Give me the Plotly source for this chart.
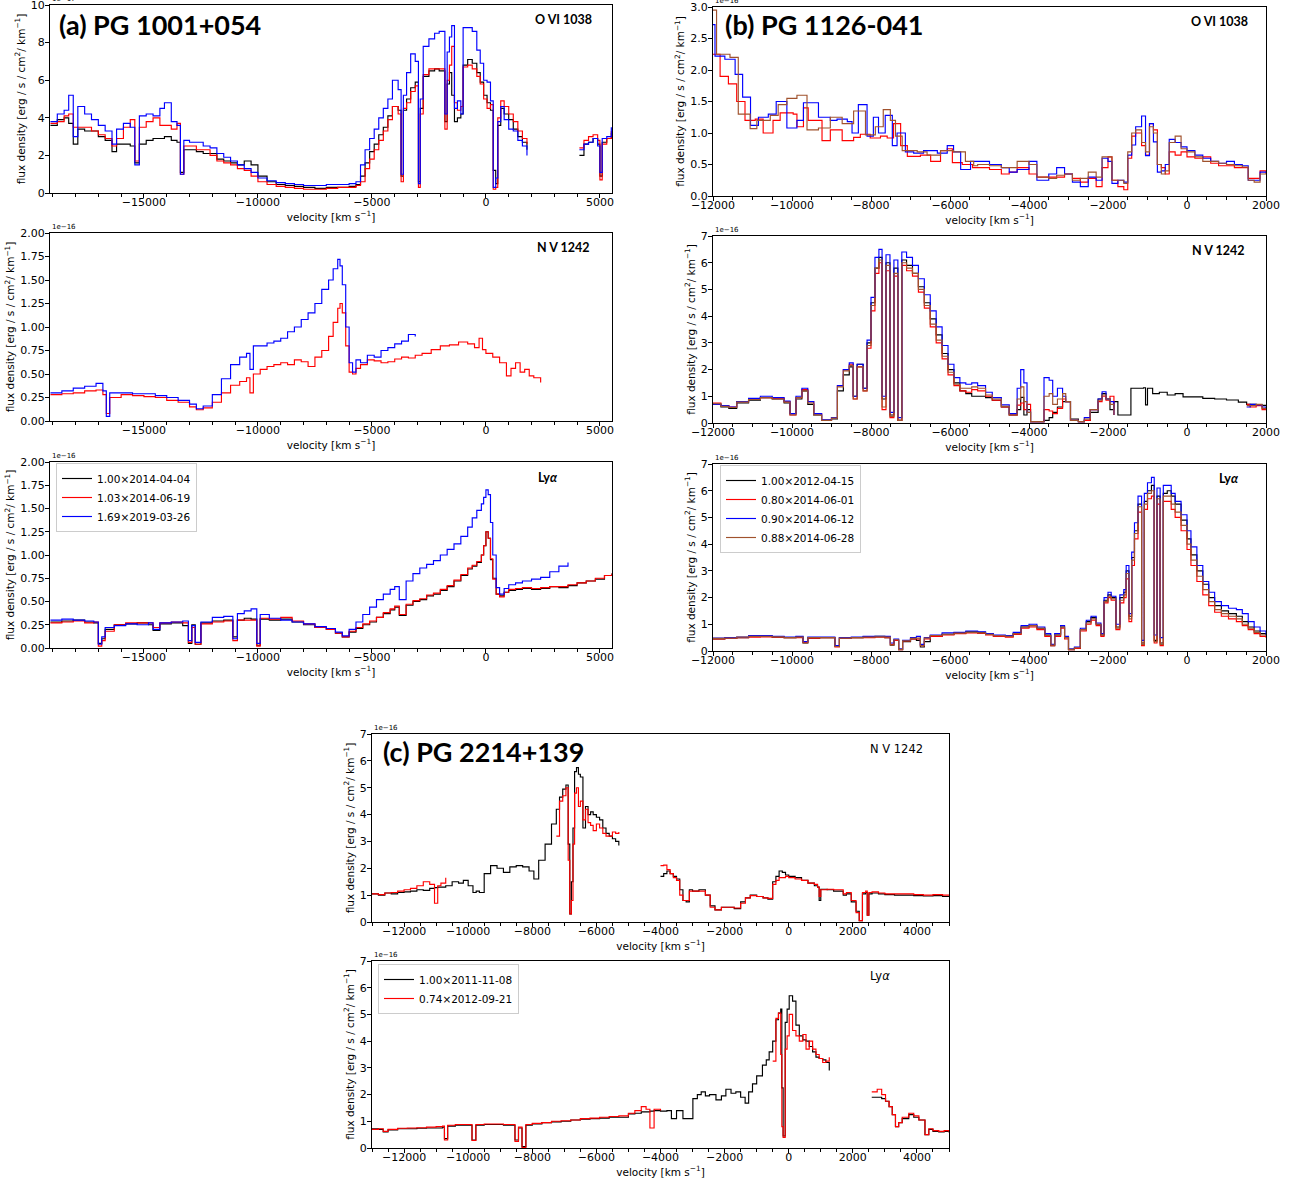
import plotly.graph_objects as go

# ---------------- (a) PG 1001+054 : O VI 1038 (units 1e-17) ----------------
A1_V = [-19100,-18800,-18500,-18300,-18100,-17900,-17600,-17300,-17000,-16700,
        -16400,-16200,-15900,-15600,-15400,-15200,-14900,-14600,-14300,-14100,
        -13800,-13550,-13400,-13250,-13000,-12700,-12400,-12100,-11800,-11500,
        -11200,-10900,-10600,-10300,-10000,-9600,-9200,-8800,-8400,-8000,
        -7500,-7000,-6500,-6000,-5700,-5500,-5300,-5100,-4900,-4700,
        -4500,-4300,-4100,-3850,-3720,-3620,-3480,-3300,-3100,-2960,
        -2880,-2750,-2500,-2250,-2050,-1800,-1700,-1600,-1500,-1380,
        -1250,-1100,-1000,-800,-600,-400,-250,-100,50,200,
        320,430,520,650,800,1000,1200,1400,1600,1800,
        2000,4100,4300,4500,4700,4900,5000,5100,5300,5500]
A1_BLACK = [3.6,3.9,4.0,3.7,2.6,3.4,3.3,3.3,3.0,2.8,
            2.2,2.6,2.6,2.5,1.6,2.6,2.8,2.9,2.9,3.0,
            2.8,2.7,1.1,2.3,2.3,2.2,2.1,2.1,1.8,1.7,
            1.6,1.5,1.7,1.5,0.9,0.6,0.45,0.4,0.35,0.3,
            0.25,0.3,0.3,0.35,0.45,0.9,1.6,2.2,2.6,3.1,
            3.5,4.1,4.6,4.4,0.9,4.4,5.0,5.6,5.9,0.6,
            4.5,6.2,6.5,6.6,6.5,3.8,5.8,6.4,5.2,3.8,
            4.0,4.2,6.8,7.1,6.9,6.4,5.9,5.2,4.8,4.4,
            1.2,0.5,3.6,4.5,4.2,3.9,3.4,3.0,2.7,2.3,
            None,2.0,2.6,2.7,2.9,2.6,0.9,2.7,2.9,3.2]
A1_RED = [3.7,3.8,4.1,4.2,3.5,3.5,3.5,3.3,3.1,2.9,
          2.5,2.9,3.5,3.9,1.7,3.5,3.8,4.0,3.6,3.6,
          3.4,3.7,1.0,2.5,2.5,2.3,2.3,2.0,1.7,1.6,
          1.5,1.3,1.2,0.9,0.6,0.45,0.35,0.3,0.25,0.2,
          0.2,0.25,0.3,0.3,0.4,0.6,1.3,1.8,2.3,2.8,
          3.3,3.9,4.6,4.2,0.6,4.5,4.8,5.4,5.7,0.3,
          4.2,6.3,6.6,6.6,6.6,3.4,6.0,6.8,7.8,4.8,
          4.4,4.6,6.7,6.8,6.6,6.2,5.8,5.0,4.5,4.7,
          0.2,0.3,4.0,4.9,4.6,4.2,3.8,3.3,2.9,2.6,
          None,2.4,2.8,3.0,3.1,2.8,0.7,2.6,2.9,3.3]
A1_BLUE = [3.8,4.2,4.4,5.2,3.0,4.6,4.2,3.9,3.6,3.3,
           2.6,3.4,3.7,3.5,1.5,4.1,4.2,4.1,4.5,4.8,
           3.8,3.6,1.0,2.8,2.7,2.7,2.5,2.4,2.1,1.9,
           1.7,1.5,1.3,1.1,0.8,0.65,0.55,0.5,0.45,0.4,
           0.4,0.45,0.45,0.5,0.6,1.5,2.3,2.9,3.4,4.0,
           4.5,5.0,6.0,5.5,1.0,5.2,6.4,7.4,7.0,0.5,
           5.0,7.8,8.2,8.5,8.6,4.2,7.5,8.3,8.9,4.5,
           4.9,4.2,8.8,8.8,8.6,7.6,6.9,6.0,5.9,4.9,
           0.3,0.8,3.8,4.6,3.9,3.4,3.3,2.8,2.5,2.0,
           None,2.3,2.6,2.7,2.9,2.5,1.1,2.9,3.0,3.5]

# ---------------- (a) N V 1242 (units 1e-16) ----------------
A2_V = [-19100,-18600,-18100,-17600,-17100,-16800,-16650,-16500,-16000,-15500,
        -15000,-14500,-14000,-13500,-13000,-12700,-12400,-12000,-11600,-11200,
        -10800,-10500,-10350,-10200,-9900,-9600,-9300,-9000,-8700,-8400,
        -8100,-7800,-7500,-7200,-6900,-6700,-6500,-6400,-6300,-6150,
        -6000,-5850,-5700,-5500,-5200,-4900,-4600,-4300,-4000,-3700,
        -3400,-3100,-2800,-2400,-2000,-1600,-1200,-800,-500,-300,
        -150,0,300,600,900,1100,1300,1500,1700,1900,
        2100,2400]
A2_RED = [0.28,0.29,0.30,0.32,0.33,0.28,0.08,0.25,0.28,0.27,
          0.26,0.25,0.22,0.20,0.15,0.12,0.14,0.20,0.30,0.38,
          0.42,0.46,0.30,0.50,0.55,0.58,0.60,0.62,0.60,0.65,
          0.63,0.58,0.68,0.75,0.90,1.05,1.20,1.25,1.15,0.80,
          0.52,0.50,0.56,0.60,0.65,0.64,0.62,0.63,0.66,0.68,
          0.67,0.70,0.72,0.76,0.80,0.81,0.84,0.82,0.78,0.88,
          0.76,0.72,0.68,0.62,0.48,0.56,0.62,0.52,0.55,0.48,
          0.46,0.41]
A2_BLUE = [0.30,0.32,0.35,0.37,0.40,0.32,0.05,0.30,0.30,0.29,
           0.29,0.27,0.25,0.22,0.18,0.13,0.16,0.28,0.45,0.60,
           0.68,0.72,0.55,0.80,0.80,0.83,0.85,0.88,0.95,1.00,
           1.08,1.15,1.25,1.40,1.50,1.62,1.72,1.65,1.45,1.00,
           0.62,0.52,0.65,0.62,0.70,0.68,0.75,0.78,0.82,0.85,
           0.92,0.90,None,None,None,None,None,None,None,None,
           None,None,None,None,None,None,None,None,None,None,
           None,None]

# ---------------- (a) Ly alpha (units 1e-16) ----------------
A3_V = [-19100,-18600,-18100,-17600,-17200,-17000,-16850,-16700,-16300,-15800,
        -15300,-14800,-14600,-14300,-13800,-13300,-13050,-12900,-12750,-12500,
        -12000,-11500,-11100,-10900,-10600,-10300,-10050,-9900,-9500,-9000,
        -8500,-8000,-7500,-7000,-6600,-6300,-6000,-5700,-5400,-5100,
        -4800,-4500,-4200,-4000,-3800,-3500,-3200,-2900,-2600,-2300,
        -2000,-1700,-1400,-1100,-800,-600,-400,-200,-100,0,
        100,200,300,450,600,800,1000,1300,1600,2000,
        2400,2800,3200,3600,4000,4400,4800,5200,5530]
A3_BLACK = [.28,.29,.30,.28,.27,.05,.10,.20,.25,.26,
            .27,.25,.19,.26,.27,.24,.05,.25,.04,.27,
            .29,.30,.12,.30,.32,.31,.03,.31,.30,.31,
            .28,.25,.22,.20,.16,.12,.17,.21,.25,.28,
            .33,.37,.41,.44,.35,.46,.50,.52,.56,.58,
            .62,.66,.72,.78,.85,.88,.92,1.0,1.1,1.25,
            1.18,.95,.75,.58,.56,.60,.62,.63,.64,.63,
            .64,.66,.65,.67,.70,.72,.74,.78,.80]
A3_RED = [.27,.28,.29,.27,.28,.02,.08,.18,.25,.27,
          .27,.27,.22,.27,.28,.27,.06,.22,.04,.26,
          .28,.29,.08,.30,.30,.30,.02,.32,.31,.33,
          .29,.26,.22,.20,.16,.12,.18,.22,.26,.29,
          .33,.38,.42,.45,.36,.47,.51,.53,.57,.59,
          .63,.67,.73,.79,.86,.89,.93,1.0,1.1,1.25,
          1.18,.96,.74,.58,.55,.60,.63,.64,.65,.64,
          .65,.66,.66,.68,.70,.72,.75,.78,.80]
A3_BLUE = [.30,.31,.30,.29,.28,.04,.12,.22,.24,.26,
           .25,.27,.20,.27,.28,.29,.08,.24,.06,.28,
           .33,.34,.10,.37,.40,.42,.05,.36,.32,.30,
           .28,.26,.23,.21,.17,.13,.20,.28,.36,.44,
           .52,.58,.63,.66,.52,.72,.80,.86,.90,.94,
           1.0,1.06,1.12,1.20,1.30,1.40,1.48,1.55,1.62,1.70,
           1.65,1.35,1.0,.65,.58,.64,.68,.70,.72,.74,
           .76,.82,.88,.92,None,None,None,None,None]

# ---------------- (b) PG 1126-041 : O VI 1038 ----------------
B1_BLUE_V = [-12000,-11950,-11700,-11440,-11250,-11050,-10850,-10600,-10400,-10130,
             -9875,-9710,-9330,-9030,-8860,-8600,-8480,-8320,-8100,-7940,
             -7810,-7640,-7460,-7340,-7130,-6920,-6670,-6320,-6070,-5910,
             -5730,-5480,-5300,-5000,-4700,-4500,-4300,-4000,-3800,-3500,
             -3300,-3100,-2900,-2700,-2500,-2300,-2150,-2000,-1900,-1750,
             -1600,-1500,-1400,-1300,-1150,-1050,-950,-850,-750,-650,
             -550,-450,-300,-150,0,200,400,600,800,1000,
             1200,1400,1550,1700,1850,2000]
B1_BLUE = [2.72,2.22,2.17,1.93,1.57,1.12,1.25,1.30,1.50,1.08,
           1.20,1.48,1.25,1.20,1.22,1.18,1.00,1.45,0.95,1.25,
           1.00,1.28,0.80,1.00,0.70,0.68,0.72,0.68,0.80,0.70,
           0.42,0.55,0.55,0.50,0.45,0.38,0.42,0.55,0.25,0.35,
           0.45,0.35,0.22,0.15,0.30,0.25,0.60,0.55,0.20,0.25,
           0.22,0.65,0.81,1.10,1.27,0.64,1.15,0.86,0.38,0.40,
           0.50,0.90,0.85,0.78,0.72,0.65,0.60,0.55,0.52,0.55,
           0.50,0.48,0.25,0.25,0.38,0.37]
B1_RED_V = [-12000,-11820,-11610,-11400,-11190,-10930,-10730,-10480,-10300,-9970,
            -9875,-9710,-9590,-9240,-9030,-8730,-8440,-8270,-8020,-7760,
            -7590,-7430,-7250,-7080,-6750,-6490,-6240,-6070,-5940,-5690,
            -5430,-5000,-4700,-4500,-4300,-4000,-3800,-3500,-3300,-3100,
            -2900,-2700,-2500,-2300,-2150,-2000,-1900,-1750,-1600,-1500,
            -1400,-1300,-1150,-1050,-950,-850,-750,-650,-550,-450,
            -300,-150,0,200,400,600,800,1000,1200,1400,
            1550,1700,1850,2000]
B1_RED = [2.25,1.90,1.78,1.50,1.20,1.22,1.00,1.20,1.32,1.30,
          1.10,1.40,1.20,0.88,1.05,0.88,0.93,0.98,0.92,0.95,
          0.92,1.15,0.80,0.63,0.65,0.55,0.72,0.75,0.53,0.50,
          0.45,0.42,0.35,0.38,0.45,0.35,0.30,0.30,0.30,0.35,
          0.28,0.22,0.28,0.15,0.45,0.62,0.25,0.15,0.10,0.60,
          0.95,1.00,0.80,0.65,1.15,1.05,0.50,0.45,0.35,0.70,
          0.65,0.70,0.62,0.60,0.62,0.52,0.48,0.48,0.45,0.45,
          0.28,0.28,0.40,0.35]
B1_BROWN_V = [-12000,-11910,-11570,-11360,-11060,-10890,-10550,-10350,-10130,-9875,
              -9620,-9330,-9030,-8730,-8440,-8140,-7890,-7690,-7510,-7380,
              -7210,-6830,-6580,-6240,-5910,-5610,-5400,-5300,-5000,-4700,
              -4500,-4300,-4000,-3800,-3500,-3300,-3100,-2900,-2700,-2500,
              -2300,-2150,-2000,-1900,-1750,-1600,-1500,-1400,-1300,-1150,
              -1050,-950,-850,-750,-650,-550,-450,-300,-150,0,
              200,400,600,800,1000,1200,1400,1550,1700,1850,
              2000]
B1_BROWN = [2.95,2.25,2.20,1.30,1.07,1.20,1.28,1.45,1.55,1.60,
            1.05,1.08,1.25,1.15,1.35,0.97,1.10,1.37,1.20,0.95,
            0.72,0.70,0.65,0.72,0.70,0.55,0.48,0.50,0.48,0.45,
            0.45,0.55,0.50,0.30,0.28,0.33,0.35,0.25,0.28,0.38,
            0.30,0.62,0.62,0.25,0.25,0.20,0.70,1.00,1.05,0.85,
            0.70,1.10,1.00,0.50,0.35,0.40,0.85,0.95,0.75,0.70,
            0.62,0.55,0.55,0.52,0.50,0.48,0.46,0.25,0.22,0.35,
            0.35]

# ---------------- (b) N V 1242 ----------------
B2_V = [-12000,-11800,-11600,-11400,-11100,-10800,-10500,-10200,-10050,-9900,
        -9750,-9600,-9450,-9250,-9000,-8850,-8700,-8550,-8450,-8350,
        -8200,-8100,-8000,-7900,-7800,-7720,-7620,-7520,-7420,-7320,
        -7220,-7100,-6950,-6800,-6650,-6500,-6350,-6200,-6050,-5900,
        -5750,-5600,-5450,-5300,-5100,-4930,-4700,-4500,-4300,-4210,
        -4130,-4050,-3960,-3750,-3620,-3490,-3400,-3280,-3150,-3070,
        -2950,-2750,-2600,-2450,-2250,-2150,-2050,-1950,-1850,-1750,
        -1460,-1420,-1100,-1050,-1000,-870,-700,-500,-300,-100,
        150,400,700,1000,1300,1510,1600,1750,1900,2000]
B2_BLACK = [0.70,0.60,0.55,0.75,0.85,0.95,0.90,0.75,0.35,0.90,
            1.20,0.70,0.30,0.10,0.15,1.20,1.80,2.10,1.00,2.20,
            1.30,3.00,4.50,5.80,6.20,0.90,6.00,0.30,5.80,0.10,
            6.10,5.90,5.60,5.10,4.50,3.90,3.30,2.60,2.00,1.50,
            1.20,1.10,1.00,1.00,0.95,0.85,0.60,0.30,0.50,0.96,
            0.30,0.50,0.05,0.05,0.10,0.20,0.40,0.60,0.80,0.80,
            0.15,0.05,0.10,0.40,0.90,1.10,0.90,0.50,0.80,0.30,
            0.30,1.30,1.32,0.68,1.30,1.10,1.15,1.05,1.10,0.98,
            0.98,0.92,0.90,0.86,0.78,0.70,0.70,0.68,0.66,0.65]
B2_RED = [0.75,0.65,0.60,0.80,0.90,0.95,0.92,0.80,0.30,0.95,
          1.25,0.80,0.35,0.10,0.20,1.40,2.00,2.20,0.90,2.10,
          1.20,2.80,4.20,5.60,6.00,0.50,5.70,0.20,5.50,0.10,
          5.90,5.70,5.50,4.90,4.30,3.60,3.00,2.40,1.80,1.40,
          1.20,1.15,1.25,1.20,1.00,0.85,0.60,0.30,0.67,0.75,
          0.50,0.70,0.05,0.05,0.50,0.45,0.35,0.55,0.90,0.80,
          0.10,0.05,0.10,0.50,0.80,1.00,0.85,1.00,0.30,None,
          None,None,None,None,None,None,None,None,None,None,
          None,None,None,None,None,0.70,0.60,0.65,0.50,0.50]
B2_BLUE = [0.70,0.65,0.60,0.80,0.92,1.00,0.95,0.82,0.35,1.00,
           1.30,0.80,0.35,0.12,0.20,1.40,2.00,2.25,1.00,2.20,
           1.30,3.10,4.70,6.20,6.50,1.00,6.30,0.40,6.10,0.20,
           6.40,6.20,5.90,5.40,4.80,4.20,3.60,2.90,2.20,1.70,
           1.50,1.45,1.50,1.40,1.15,0.95,0.68,0.35,1.30,2.00,
           1.50,0.40,0.05,0.05,1.70,1.60,1.00,1.30,1.00,0.80,
           0.10,0.05,0.20,0.50,0.90,1.17,0.90,0.80,0.30,None,
           None,None,None,None,None,None,None,None,None,None,
           None,None,None,None,None,0.60,0.70,0.68,0.60,0.55]
B2_BROWN = [0.72,0.62,0.58,0.78,0.88,0.95,0.90,0.78,0.30,0.95,
            1.20,0.75,0.30,0.10,0.18,1.35,1.95,2.15,0.90,2.10,
            1.20,2.90,4.40,5.80,6.10,0.60,5.90,0.25,5.60,0.10,
            6.00,5.80,5.60,5.00,4.40,3.70,3.10,2.50,1.90,1.45,
            1.30,1.30,1.35,1.30,1.05,0.90,0.62,0.30,0.90,1.35,
            0.80,0.40,0.05,0.05,1.00,1.10,0.70,0.90,1.10,0.80,
            0.10,0.05,0.15,0.50,0.85,1.05,0.90,0.70,0.30,None,
            None,None,None,None,None,None,None,None,None,None,
            None,None,None,None,None,0.65,0.65,0.70,0.55,0.50]

# ---------------- (b) Ly alpha ----------------
B3_V = [-12000,-11700,-11400,-11100,-10800,-10500,-10200,-9900,-9720,-9600,
        -9300,-9000,-8915,-8800,-8500,-8200,-7900,-7650,-7510,-7420,
        -7300,-7200,-7000,-6850,-6750,-6650,-6500,-6200,-5900,-5600,
        -5300,-5100,-4900,-4600,-4400,-4200,-4000,-3800,-3600,-3450,
        -3350,-3200,-3100,-3000,-2850,-2700,-2550,-2430,-2300,-2180,
        -2100,-2000,-1920,-1800,-1700,-1600,-1540,-1470,-1400,-1330,
        -1240,-1150,-1080,-1000,-900,-830,-760,-680,-600,-500,
        -400,-300,-150,0,100,250,400,550,700,870,
        1050,1250,1400,1550,1700,1850,2000]
B3_BLACK = [0.45,0.48,0.50,0.55,0.55,0.52,0.50,0.52,0.30,0.48,
            0.50,0.50,0.18,0.48,0.50,0.52,0.55,0.50,0.22,0.40,
            0.05,0.35,0.45,0.40,0.15,0.35,0.55,0.62,0.68,0.72,
            0.70,0.62,0.55,0.55,0.65,0.90,0.95,0.85,0.60,0.20,
            0.60,0.90,0.50,0.05,0.10,0.80,1.10,1.25,1.00,0.60,
            1.90,2.10,2.00,0.90,2.00,2.20,3.00,1.30,3.50,4.50,
            5.50,0.30,5.60,6.00,6.20,0.40,5.80,0.30,5.90,6.00,
            5.80,5.50,4.90,4.20,3.60,3.00,2.50,2.00,1.70,1.50,
            1.40,1.30,1.10,0.90,0.75,0.65,0.60]
B3_RED = [0.45,0.47,0.50,0.52,0.53,0.52,0.50,0.50,0.32,0.48,
          0.50,0.50,0.15,0.48,0.50,0.50,0.52,0.50,0.25,0.40,
          0.05,0.38,0.45,0.45,0.20,0.45,0.55,0.60,0.65,0.68,
          0.66,0.60,0.55,0.52,0.62,0.85,0.90,0.80,0.55,0.20,
          0.55,0.85,0.45,0.05,0.10,0.75,1.00,1.15,0.95,0.55,
          1.80,2.00,1.90,0.80,1.80,2.00,2.70,1.10,3.20,4.20,
          5.20,0.20,5.30,5.70,5.80,0.30,5.50,0.20,5.60,5.60,
          5.30,5.00,4.50,3.80,3.20,2.60,2.10,1.70,1.45,1.30,
          1.20,1.10,0.95,0.80,0.65,0.55,0.50]
B3_BLUE = [0.48,0.50,0.52,0.58,0.58,0.55,0.52,0.55,0.35,0.52,
           0.52,0.52,0.20,0.50,0.52,0.55,0.55,0.55,0.30,0.45,
           0.08,0.40,0.50,0.55,0.25,0.50,0.60,0.68,0.70,0.75,
           0.72,0.65,0.60,0.58,0.70,0.95,1.00,0.90,0.65,0.25,
           0.65,0.95,0.55,0.08,0.15,0.85,1.15,1.30,1.05,0.65,
           2.00,2.20,2.05,1.00,2.10,2.30,3.20,1.40,3.70,4.80,
           5.80,0.40,5.90,6.30,6.50,0.60,6.10,0.50,6.20,6.20,
           5.90,5.60,5.10,4.50,3.90,3.20,2.60,2.20,1.85,1.70,
           1.60,1.55,1.40,1.10,0.90,0.75,0.60]
B3_BROWN = [0.47,0.48,0.52,0.55,0.55,0.53,0.50,0.52,0.30,0.50,
            0.50,0.50,0.17,0.48,0.50,0.52,0.53,0.52,0.22,0.42,
            0.06,0.38,0.47,0.48,0.20,0.48,0.58,0.62,0.67,0.70,
            0.68,0.62,0.57,0.55,0.65,0.90,0.95,0.85,0.58,0.22,
            0.60,0.90,0.50,0.06,0.12,0.80,1.05,1.20,1.00,0.60,
            1.85,2.05,1.95,0.85,1.90,2.10,2.90,1.20,3.40,4.40,
            5.40,0.25,5.50,5.90,6.00,0.35,5.70,0.25,5.80,5.80,
            5.50,5.20,4.70,4.00,3.40,2.80,2.30,1.85,1.55,1.40,
            1.30,1.20,1.00,0.85,0.70,0.60,0.55]

# ---------------- (c) PG 2214+139 : N V 1242 ----------------
C1_V = [-13000,-12800,-12600,-12400,-12200,-12000,-11800,-11600,-11400,-11200,
        -11050,-10950,-10850,-10700,-10500,-10300,-10150,-10000,-9850,-9750,
        -9650,-9500,-9300,-9100,-8900,-8700,-8500,-8300,-8100,-7950,
        -7800,-7600,-7400,-7250,-7150,-7050,-6950,-6880,-6830,-6780,
        -6730,-6680,-6620,-6560,-6500,-6420,-6340,-6260,-6180,-6100,
        -6000,-5900,-5800,-5700,-5600,-5500,-5400,-5300,-5200,-4000,
        -3900,-3800,-3700,-3600,-3500,-3400,-3300,-3200,-3100,-3000,
        -2800,-2600,-2450,-2300,-2100,-1900,-1700,-1500,-1350,-1200,
        -1000,-800,-650,-500,-400,-300,-200,-100,0,200,
        400,600,800,900,950,1000,1200,1400,1600,1700,
        1800,1950,2100,2200,2300,2400,2450,2500,2600,2800,
        3000,3300,3600,3900,4200,4500,4800,5000]
C1_BLACK = [1.05,1.00,1.08,1.05,1.10,1.12,1.15,1.20,1.18,1.25,
            1.28,1.30,1.30,1.35,1.50,1.45,1.55,1.35,1.10,1.15,
            1.10,1.80,2.10,2.00,1.85,2.05,2.10,2.05,1.90,1.60,
            2.30,2.90,3.65,4.20,4.65,4.95,5.10,2.90,0.30,1.50,
            3.50,5.60,5.75,5.50,5.40,3.50,4.30,4.00,4.10,4.00,
            3.90,3.80,3.50,3.30,3.20,3.10,3.00,2.85,None,1.70,
            1.80,1.90,1.80,1.70,1.60,1.20,0.80,0.75,1.20,1.15,
            1.20,1.00,0.60,0.45,0.55,0.55,0.50,0.75,0.90,1.00,
            0.95,0.90,0.85,1.50,1.70,1.90,1.85,1.75,1.70,1.65,
            1.55,1.45,1.35,1.30,0.80,1.22,1.20,1.15,1.15,1.00,
            1.05,0.75,0.40,0.05,1.05,1.10,0.25,1.05,1.08,1.05,
            1.02,1.00,1.00,0.98,0.97,0.98,0.95,0.95]
C1_RED = [1.05,1.02,1.08,1.10,1.15,1.20,1.25,1.35,1.50,1.40,
          0.70,1.35,1.45,1.65,None,None,None,None,None,None,
          None,None,None,None,None,None,None,None,None,None,
          None,None,None,3.20,4.50,4.70,5.00,2.30,0.30,0.80,
          2.90,4.80,5.00,4.30,4.50,3.80,4.20,3.70,3.60,3.40,
          3.65,3.50,3.30,3.20,3.20,3.35,3.30,3.35,None,2.10,
          2.12,1.95,1.80,1.65,1.55,1.00,0.80,0.80,1.15,1.15,
          1.15,1.00,0.55,0.45,0.55,0.55,0.52,0.70,0.90,0.98,
          0.95,0.90,0.88,1.40,1.55,1.65,1.65,1.70,1.65,1.60,
          1.55,1.45,1.40,1.30,0.95,1.20,1.22,1.20,1.20,1.05,
          1.10,0.80,0.35,0.05,1.10,1.15,0.25,1.10,1.12,1.08,
          1.05,1.05,1.05,1.02,1.00,1.02,1.00,1.00]

# ---------------- (c) Ly alpha ----------------
C2_V = [-13000,-12800,-12650,-12500,-12200,-11900,-11600,-11300,-11000,-10800,
        -10740,-10640,-10400,-10100,-9960,-9880,-9760,-9500,-9200,-8900,
        -8610,-8540,-8430,-8320,-8200,-8000,-7700,-7400,-7100,-6800,
        -6500,-6200,-5900,-5600,-5300,-5000,-4800,-4600,-4450,-4330,
        -4200,-4000,-3800,-3660,-3500,-3300,-3140,-2990,-2850,-2730,
        -2600,-2470,-2270,-2100,-1960,-1800,-1650,-1500,-1360,-1250,
        -1130,-1000,-820,-700,-610,-500,-400,-320,-250,-215,
        -175,-110,-50,15,120,225,330,440,540,640,
        745,850,950,1060,1160,1265,1400,2590,2760,2900,
        3020,3130,3230,3330,3430,3540,3745,3900,4060,4250,
        4370,4500,4680,4850,5000]
C2_BLACK = [0.72,0.70,0.60,0.68,0.72,0.72,0.74,0.75,0.75,0.78,
            0.35,0.82,0.85,0.85,0.85,0.30,0.85,0.88,0.88,0.85,
            0.85,0.30,0.75,0.05,0.85,0.90,0.95,0.98,1.00,1.05,
            1.08,1.10,1.12,1.15,1.15,1.28,1.30,1.35,1.35,1.38,
            1.40,1.38,1.40,1.10,1.40,1.10,1.10,1.85,2.00,2.10,
            1.95,2.00,1.80,1.95,2.20,2.05,2.10,1.90,1.68,2.10,
            2.40,2.70,3.10,3.30,3.60,4.00,4.80,5.05,5.20,2.25,
            0.45,4.70,5.20,5.70,5.50,4.60,4.20,4.05,4.00,3.80,
            3.60,3.40,3.35,3.30,3.20,2.90,None,1.90,1.90,1.85,
            1.75,1.55,1.25,0.80,0.95,1.10,1.25,1.15,1.05,0.50,
            0.70,0.62,0.60,0.62,0.58]
C2_RED = [0.70,0.72,0.62,0.70,0.74,0.75,0.76,0.78,0.80,0.82,
          0.30,0.85,0.88,0.88,0.88,0.28,0.88,0.90,0.90,0.88,
          0.88,0.25,0.78,0.02,0.88,0.92,0.95,1.00,1.02,1.05,
          1.10,1.12,1.15,1.18,1.20,1.30,1.40,1.55,1.45,0.75,
          1.45,1.40,None,None,None,None,None,None,None,None,
          None,None,None,None,None,None,None,None,None,None,
          None,None,None,None,None,3.25,4.85,5.05,3.50,0.80,
          0.40,3.70,4.20,5.00,4.40,4.20,4.00,4.25,3.70,4.00,
          3.70,3.50,3.35,3.20,3.25,3.40,None,2.10,2.20,2.00,
          1.75,1.55,1.25,0.80,0.95,1.15,1.30,1.20,1.05,0.50,
          0.72,0.65,0.62,0.65,0.60]

LEG_A = ["1.00×2014-04-04", "1.03×2014-06-19", "1.69×2019-03-26"]
LEG_B = ["1.00×2012-04-15", "0.80×2014-06-01", "0.90×2014-06-12", "0.88×2014-06-28"]
LEG_C = ["1.00×2011-11-08", "0.74×2012-09-21"]

for xs, ys in [(A1_V, A1_BLACK), (A1_V, A1_RED), (A1_V, A1_BLUE), (A2_V, A2_RED), (A2_V, A2_BLUE),
               (A3_V, A3_BLACK), (A3_V, A3_RED), (A3_V, A3_BLUE), (B1_BLUE_V, B1_BLUE),
               (B1_RED_V, B1_RED), (B1_BROWN_V, B1_BROWN), (B2_V, B2_BLACK), (B2_V, B2_RED),
               (B2_V, B2_BLUE), (B2_V, B2_BROWN), (B3_V, B3_BLACK), (B3_V, B3_RED),
               (B3_V, B3_BLUE), (B3_V, B3_BROWN), (C1_V, C1_BLACK), (C1_V, C1_RED),
               (C2_V, C2_BLACK), (C2_V, C2_RED)]:
    assert len(xs) == len(ys), (len(xs), len(ys))

# ---------------- figure ----------------
W, H = 1300, 1184
BLACK, RED, BLUE, BROWN = "#000000", "#ff0000", "#0000ff", "#a0522d"
FONT = "DejaVu Sans"

fig = go.Figure()


def add(n, x, y, color, name=None, legend=None):
    fig.add_trace(go.Scatter(
        x=x, y=y, mode="lines",
        line=dict(color=color, width=1.15, shape="hv"),
        xaxis="x" if n == 1 else f"x{n}", yaxis="y" if n == 1 else f"y{n}",
        name=name, showlegend=name is not None, legend=legend,
        connectgaps=False, hoverinfo="skip"))


add(1, A1_V, A1_BLACK, BLACK); add(1, A1_V, A1_RED, RED); add(1, A1_V, A1_BLUE, BLUE)
add(2, A2_V, A2_RED, RED); add(2, A2_V, A2_BLUE, BLUE)
add(3, A3_V, A3_BLACK, BLACK, LEG_A[0], "legend")
add(3, A3_V, A3_RED, RED, LEG_A[1], "legend")
add(3, A3_V, A3_BLUE, BLUE, LEG_A[2], "legend")
add(4, B1_RED_V, B1_RED, RED); add(4, B1_BLUE_V, B1_BLUE, BLUE); add(4, B1_BROWN_V, B1_BROWN, BROWN)
add(5, B2_V, B2_BLACK, BLACK); add(5, B2_V, B2_RED, RED); add(5, B2_V, B2_BLUE, BLUE); add(5, B2_V, B2_BROWN, BROWN)
add(6, B3_V, B3_BLACK, BLACK, LEG_B[0], "legend2")
add(6, B3_V, B3_RED, RED, LEG_B[1], "legend2")
add(6, B3_V, B3_BLUE, BLUE, LEG_B[2], "legend2")
add(6, B3_V, B3_BROWN, BROWN, LEG_B[3], "legend2")
add(7, C1_V, C1_BLACK, BLACK); add(7, C1_V, C1_RED, RED)
add(8, C2_V, C2_BLACK, BLACK, LEG_C[0], "legend3")
add(8, C2_V, C2_RED, RED, LEG_C[1], "legend3")

# idx, left, right, top, bottom (px), x range, y range, x dtick, x minor, y dtick, y format, multiplier
PANELS = [
    (1, 50, 612, 5, 193, [-19120, 5530], [0, 10], 5000, 1000, 2, "d", "1e−17"),
    (2, 50, 612, 233, 421, [-19120, 5530], [0, 2], 5000, 1000, 0.25, ".2f", "1e−16"),
    (3, 50, 612, 462, 648, [-19120, 5530], [0, 2], 5000, 1000, 0.25, ".2f", "1e−16"),
    (4, 713, 1266, 7, 196, [-12000, 2000], [0, 3], 2000, 500, 0.5, ".1f", "1e−16"),
    (5, 713, 1266, 236, 423, [-12000, 2000], [0, 7], 2000, 500, 1, "d", "1e−16"),
    (6, 713, 1266, 464, 651, [-12000, 2000], [0, 7], 2000, 500, 1, "d", "1e−16"),
    (7, 372, 949, 734, 922, [-13000, 5000], [0, 7], 2000, 500, 1, "d", "1e−16"),
    (8, 372, 949, 961, 1148, [-13000, 5000], [0, 7], 2000, 500, 1, "d", "1e−16"),
]

YTITLE = "flux density [erg / s / cm<sup>2</sup>/ km<sup>−1</sup>]"
XTITLE = "velocity [km s<sup>−1</sup>]"
layout = {}
annotations = []
for n, l, r, t, b, xr, yr, xd, xm, yd, yf, mult in PANELS:
    xk = "xaxis" if n == 1 else f"xaxis{n}"
    yk = "yaxis" if n == 1 else f"yaxis{n}"
    common = dict(showline=True, mirror=True, linecolor="black", linewidth=1,
                  ticks="outside", ticklen=4, tickwidth=1, tickcolor="black",
                  showgrid=False, zeroline=False, fixedrange=True, automargin=False,
                  ticklabeloverflow="allow",
                  tickfont=dict(family=FONT, size=11, color="black"))
    layout[xk] = dict(common, domain=[l / W, r / W], anchor="y" if n == 1 else f"y{n}",
                      range=xr, tick0=0, dtick=xd, tickformat="d", ticklabelstandoff=-5,
                      minor=dict(dtick=xm, tick0=0, ticks="outside", ticklen=2.5,
                                 tickcolor="black", tickwidth=0.8),
                      title=dict(text=XTITLE, font=dict(family=FONT, size=10.5, color="black"),
                                 standoff=0))
    layout[yk] = dict(common, domain=[1 - b / H, 1 - t / H], anchor="x" if n == 1 else f"x{n}",
                      range=yr, tick0=0, dtick=yd, tickformat=yf, ticklabelstandoff=-2,
                      title=dict(text=YTITLE, font=dict(family=FONT, size=10.5, color="black"),
                                 standoff=3))
    annotations.append(dict(text=mult, x=l / W, y=1 - t / H, xref="paper", yref="paper",
                            xanchor="left", yanchor="bottom", showarrow=False,
                            font=dict(family=FONT, size=7, color="black")))

# panel titles
for txt, x, y in [("(a) PG 1001+054", 57, 24), ("(b) PG 1126-041", 723, 24), ("(c) PG 2214+139", 381, 751)]:
    annotations.append(dict(text=f"<b>{txt}</b>", x=x / W, y=1 - y / H, xref="paper", yref="paper",
                            xanchor="left", yanchor="middle", showarrow=False,
                            font=dict(family="Lato", size=27, color="black")))

# line labels
for txt, x, y, bold in [("O VI 1038", 533, 20, True), ("N V 1242", 535, 248, True), ("Ly<i>α</i>", 536, 477, True),
                        ("O VI 1038", 1189, 22, True), ("N V 1242", 1190, 250, True), ("Ly<i>α</i>", 1217, 478, True),
                        ("N V 1242", 868, 749, False), ("Ly<i>α</i>", 868, 976, False)]:
    annotations.append(dict(text=f"<b>{txt}</b>" if bold else txt, x=x / W, y=1 - y / H,
                            xref="paper", yref="paper", xanchor="left", yanchor="middle",
                            showarrow=False,
                            font=dict(family="Lato" if bold else FONT, size=12.5 if bold else 11.5,
                                      color="black")))

legstyle = dict(xanchor="left", yanchor="top", bgcolor="white", bordercolor="#cccccc",
                borderwidth=1, font=dict(family=FONT, size=10.5, color="black"),
                tracegroupgap=0, itemwidth=30)
layout["legend"] = dict(legstyle, x=56 / W, y=1 - 463 / H)
layout["legend2"] = dict(legstyle, x=720 / W, y=1 - 465 / H)
layout["legend3"] = dict(legstyle, x=378 / W, y=1 - 964 / H)

fig.update_layout(width=W, height=H, margin=dict(l=0, r=0, t=0, b=0, autoexpand=False),
                  paper_bgcolor="white", plot_bgcolor="white",
                  annotations=annotations, **layout)

fig.write_html("out.html", config={"displayModeBar": False},
               post_script="document.body.style.margin='0';")
